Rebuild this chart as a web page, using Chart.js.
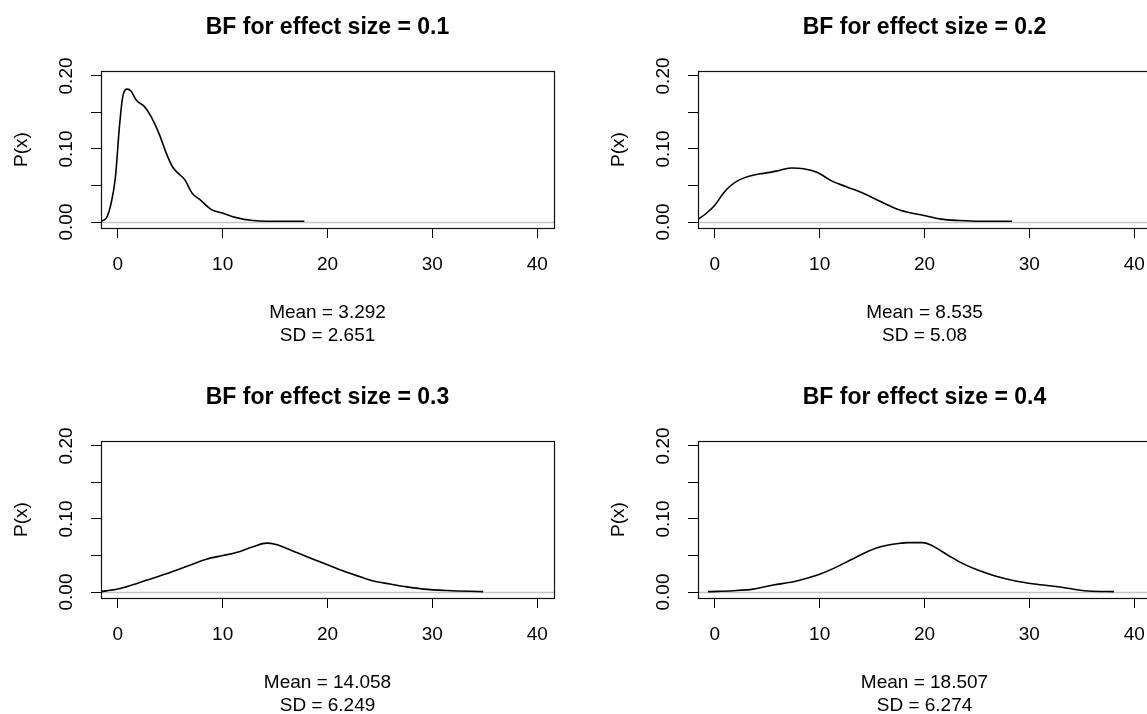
<!DOCTYPE html>
<html>
<head>
<meta charset="utf-8">
<script src="https://cdn.jsdelivr.net/npm/chart.js@4.4.1/dist/chart.umd.min.js"></script>
<style>
html,body{margin:0;padding:0;background:#fff;overflow:hidden;width:1147px;height:714px;}
.panel{position:absolute;width:597px;height:370px;}
</style>
</head>
<body>
<div class="panel" style="left:0;top:0"><canvas id="c1" width="597" height="370"></canvas></div>
<div class="panel" style="left:597px;top:0"><canvas id="c2" width="597" height="370"></canvas></div>
<div class="panel" style="left:0;top:370px"><canvas id="c3" width="597" height="370"></canvas></div>
<div class="panel" style="left:597px;top:370px"><canvas id="c4" width="597" height="370"></canvas></div>
<script>
// panel labels
const effectSizes = ['0.1', '0.2', '0.3', '0.4'];
const means = ['3.292', '8.535', '14.058', '18.507'];
const sds = ['2.651', '5.08', '6.249', '6.274'];

// axis ticks
const xTicks = [0, 10, 20, 30, 40];
const yTicks = [0, 0.05, 0.10, 0.15, 0.20];
const yTickLabels = ['0.00', '', '0.10', '', '0.20'];

// density curves
const bf01X = [-1.65, -1.11, -0.63, -0.22, 0.16, 0.48, 0.9, 1.28, 1.76, 2.55, 3.19, 3.99, 4.63, 5.2, 5.74, 6.38, 7.11, 7.81, 8.93, 10.04, 11.3, 12.9, 14.2, 17.8];
const bf01Y = [0.001, 0.005, 0.026, 0.062, 0.131, 0.172, 0.182, 0.179, 0.167, 0.158, 0.144, 0.119, 0.094, 0.076, 0.067, 0.058, 0.039, 0.031, 0.017, 0.012, 0.006, 0.002, 0.001, 0.001];

const bf02X = [-1.66, -0.8, 0, 0.8, 1.44, 2.39, 3.35, 4.31, 5.27, 6.23, 7.34, 8.46, 9.74, 11.18, 12.6, 14.2, 15.8, 17.7, 19.95, 21.55, 23.3, 25.4, 28.35];
const bf02Y = [0.003, 0.012, 0.023, 0.039, 0.049, 0.058, 0.063, 0.066, 0.068, 0.071, 0.074, 0.073, 0.068, 0.056, 0.048, 0.039, 0.028, 0.016, 0.009, 0.004, 0.002, 0.001, 0.001];

const bf03X = [-1.65, 0, 1.43, 2.7, 4.63, 6.54, 8.45, 10.04, 11.3, 12.9, 14.2, 15.1, 17.06, 18.64, 20.24, 21.84, 23.1, 24.38, 25.97, 27.57, 29.16, 31.4, 34.84];
const bf03Y = [0.0005, 0.004, 0.010, 0.016, 0.025, 0.035, 0.045, 0.050, 0.054, 0.062, 0.067, 0.065, 0.054, 0.045, 0.036, 0.027, 0.021, 0.015, 0.011, 0.007, 0.004, 0.002, 0.0005];

const bf04X = [-0.64, 1.75, 3.67, 5.58, 7.5, 8.78, 10.06, 11.33, 12.93, 14.53, 15.49, 16.44, 17.72, 18.36, 19.8, 20.6, 22.2, 23.47, 25.07, 26.66, 28.57, 30.49, 32.73, 35.6, 38.06];
const bf04Y = [0.0005, 0.0018, 0.004, 0.0096, 0.014, 0.0187, 0.0247, 0.0324, 0.0438, 0.0552, 0.0607, 0.064, 0.0667, 0.0676, 0.0676, 0.0644, 0.0507, 0.0402, 0.030, 0.0224, 0.0155, 0.011, 0.0073, 0.0014, 0.0005];

const curvesX = [bf01X, bf02X, bf03X, bf04X];
const curvesY = [bf01Y, bf02Y, bf03Y, bf04Y];

Chart.defaults.color = '#000';
Chart.defaults.font.family = '"Liberation Sans", Arial, sans-serif';
Chart.defaults.font.size = 19;

/* gray zero line and the box round the plot */
const rPlot = {
  id: 'rPlot',
  beforeDatasetsDraw(chart) {
    const {ctx, chartArea: a, scales: {y}} = chart;
    const py = Math.round(y.getPixelForValue(0)) + 0.5;
    ctx.save();
    ctx.strokeStyle = '#c4c4c4';
    ctx.lineWidth = 1.5;
    ctx.beginPath();
    ctx.moveTo(a.left, py);
    ctx.lineTo(a.right, py);
    ctx.stroke();
    ctx.restore();
  },
  afterDraw(chart) {
    const {ctx, chartArea: a} = chart;
    ctx.save();
    ctx.strokeStyle = '#111';
    ctx.lineWidth = 1.2;
    ctx.strokeRect(Math.round(a.left) + 0.5, Math.round(a.top) + 0.5, Math.round(a.right - a.left), Math.round(a.bottom - a.top));
    ctx.restore();
  }
};

function makePanel(i) {
  const pts = curvesX[i].map((x, k) => ({x, y: curvesY[i][k]}));
  new Chart(document.getElementById('c' + (i + 1)), {
    type: 'line',
    data: {
      datasets: [{
        data: pts,
        borderColor: '#000',
        borderWidth: 1.6,
        pointRadius: 0,
        fill: false,
        cubicInterpolationMode: 'monotone'
      }]
    },
    options: {
      responsive: false,
      animation: false,
      events: [],
      layout: {padding: {left: 0, top: 0, right: 43, bottom: 0}},
      plugins: {
        legend: {display: false},
        tooltip: {enabled: false},
        title: {
          display: true,
          fullSize: false,
          text: 'BF for effect size = ' + effectSizes[i],
          font: {size: 23, weight: 'bold'},
          padding: {top: 14, bottom: 29.4}
        }
      },
      scales: {
        x: {
          type: 'linear',
          min: -1.6,
          max: 41.6,
          afterBuildTicks: s => { s.ticks = xTicks.map(v => ({value: v})); },
          afterFit: s => { s.height = 142; },
          ticks: {padding: 15, autoSkip: false, maxRotation: 0, callback: v => String(v)},
          grid: {drawOnChartArea: false, tickLength: 10, color: '#000', lineWidth: 1},
          border: {display: true, color: '#000', width: 1},
          title: {
            display: true,
            text: ['Mean = ' + means[i], 'SD = ' + sds[i]],
            padding: {top: 0, bottom: 22.8}
          }
        },
        y: {
          min: -0.0082,
          max: 0.2068,
          afterBuildTicks: s => { s.ticks = yTicks.map(v => ({value: v})); },
          afterFit: s => { s.width = 101; },
          ticks: {
            padding: 5.5,
            autoSkip: false,
            minRotation: 90,
            maxRotation: 90,
            crossAlign: 'center',
            callback: (v, idx) => yTickLabels[idx]
          },
          grid: {drawOnChartArea: false, tickLength: 10, color: '#000', lineWidth: 1},
          border: {display: true, color: '#000', width: 1},
          title: {display: true, text: 'P(x)', padding: {top: 10.6, bottom: 0}}
        }
      }
    },
    plugins: [rPlot]
  });
}

for (let i = 0; i < 4; i++) makePanel(i);
</script>
</body>
</html>
